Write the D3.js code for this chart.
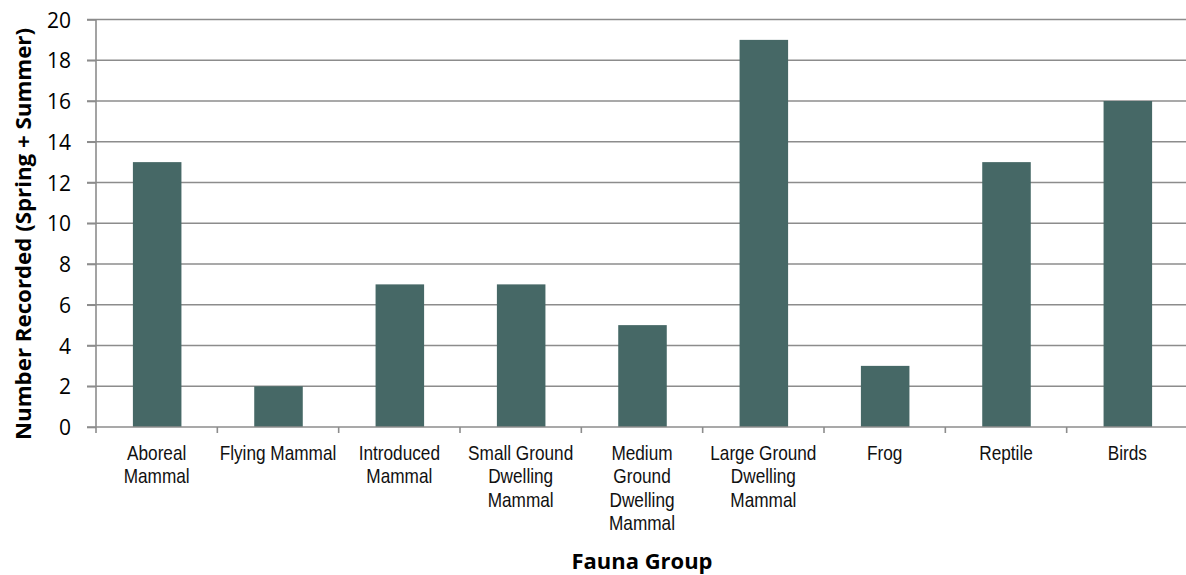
<!DOCTYPE html>
<html><head><meta charset="utf-8">
<script src="https://cdn.jsdelivr.net/npm/d3@7"></script>
<style>body{margin:0;background:#fff}</style>
</head><body><svg id="c" width="1186" height="575"></svg>
<script>
const categories = ["Aboreal\nMammal","Flying Mammal","Introduced\nMammal","Small Ground\nDwelling\nMammal","Medium\nGround\nDwelling\nMammal","Large Ground\nDwelling\nMammal","Frog","Reptile","Birds"];
const values = [13,2,7,7,5,19,3,13,16];
const yTicks = [0,2,4,6,8,10,12,14,16,18,20];

(function(){
const svg = d3.select("#c");
const mLeft = 96, mRight = 1188, mTop = 19.5, mBottom = 427;
const x = d3.scaleBand().domain(categories).range([mLeft, mRight]).padding(0);
const y = d3.scaleLinear().domain([0,20]).range([mBottom, mTop]);
const grid = "#8c8c8c";
const sans = "'Open Sans', 'Noto Sans', sans-serif";

// gridlines
svg.append("g").selectAll("line").data(yTicks.filter(d=>d>0)).join("line")
  .attr("x1", 87).attr("x2", 1186)
  .attr("y1", d=>y(d)).attr("y2", d=>y(d))
  .attr("stroke", grid).attr("stroke-width", 1.6);

// bars
const bw = x.step()*0.4;
svg.append("g").selectAll("rect").data(values).join("rect")
  .attr("x", (d,i)=>x(categories[i]) + (x.step()-bw)/2 + 0.5)
  .attr("y", d=>y(d)).attr("width", bw).attr("height", d=>mBottom - y(d))
  .attr("fill", "#466866");

// y axis
const yAxis = d3.axisLeft(y).tickValues(yTicks).tickSize(9).tickFormat(d3.format("d"));
const gy = svg.append("g").attr("transform", `translate(${mLeft},0)`).call(yAxis);
gy.select(".domain").attr("stroke", grid).attr("stroke-width", 1.6).attr("d", `M0,${mTop}V${mBottom}`);
gy.selectAll(".tick line").attr("stroke", grid).attr("stroke-width", 1.6);
gy.selectAll(".tick text").attr("x", -25).attr("dy", "0.36em")
  .style("font-family", sans).style("font-size", "21px").attr("fill", "#000");

// x axis
const xAxis = d3.axisBottom(x).tickSize(0).tickFormat("");
const gx = svg.append("g").attr("transform", `translate(0,${mBottom})`).call(xAxis);
gx.select(".domain").attr("stroke", grid).attr("stroke-width", 1.6).attr("d", `M87,0H1186`);
svg.append("g").selectAll("line").data(categories.concat(["_end"])).join("line")
  .attr("x1", (d,i)=>mLeft + i*x.step()).attr("x2", (d,i)=>mLeft + i*x.step())
  .attr("y1", mBottom).attr("y2", mBottom+6).attr("stroke", grid).attr("stroke-width", 1.6);

// category labels (narrow)
const lbl = svg.append("g").selectAll("text").data(categories).join("text")
  .attr("transform", d=>`translate(${x(d)+x.step()/2},460) scale(0.82,1)`)
  .attr("text-anchor", "middle")
  .style("font-family", "'Liberation Sans Narrow', 'Liberation Sans', Arial, sans-serif")
  .style("font-size", "21px").attr("fill", "#111");
lbl.each(function(d){
  const t = d3.select(this);
  d.split("\n").forEach((s,i)=>{
    t.append("tspan").attr("x", 0).attr("dy", i===0?0:23.3).text(s);
  });
});

// axis titles
svg.append("text").attr("x", 642).attr("y", 569).attr("text-anchor", "middle")
  .style("font-family", sans).style("font-weight", "bold").style("font-size", "21.5px")
  .attr("textLength", 141).attr("lengthAdjust", "spacingAndGlyphs")
  .text("Fauna Group");
svg.append("text").attr("transform", "translate(31,234) rotate(-90)").attr("text-anchor", "middle")
  .style("font-family", sans).style("font-weight", "bold").style("font-size", "21.5px")
  .attr("textLength", 412).attr("lengthAdjust", "spacingAndGlyphs")
  .text("Number Recorded (Spring + Summer)");
})();
</script></body></html>
